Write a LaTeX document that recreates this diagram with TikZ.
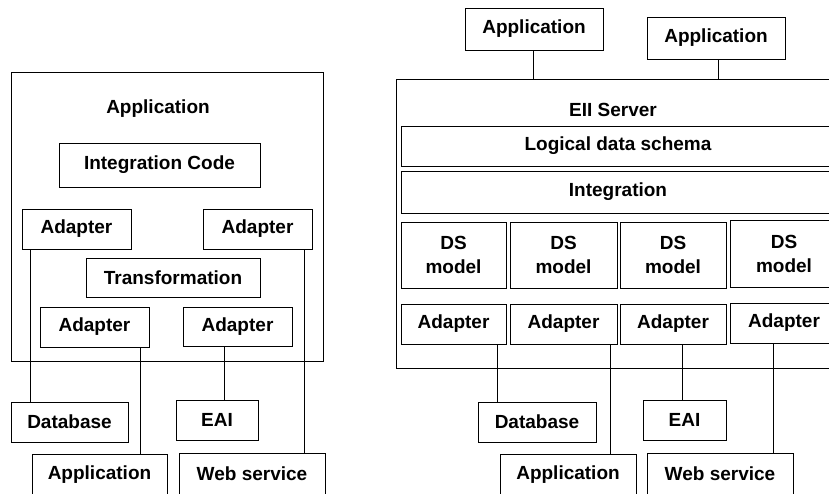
\documentclass[tikz,border=0pt]{standalone}
\usepackage{fontspec}
\setmainfont{Liberation Sans}
\tikzset{
  box/.style={draw, line width=1pt, inner sep=0pt, font=\fontsize{19}{24}\selectfont\bfseries, align=center},
  title/.style={inner sep=0pt, font=\fontsize{19}{24}\selectfont\bfseries},
  link/.style={line width=1pt}
}
\begin{document}
\begin{tikzpicture}[x=1pt, y=-1pt]
    \useasboundingbox (0,0) rectangle (829,493) ;
    \clip (0,0) rectangle (829,493) ;

    % left: integration inside the application
    \node [box, minimum width=312, minimum height=289] (app) at (167,216.5) {} ;
    \node [title] (apptitle) at (158,109) {Application} ;
    \node [box, minimum width=201, minimum height=44] (code) at (159.5,165) {Integration Code} ;
    \node [box, minimum width=109, minimum height=40] (adtl) at (76.5,229) {Adapter} ;
    \node [box, minimum width=109, minimum height=40] (adtr) at (257.5,229) {Adapter} ;
    \node [box, minimum width=174, minimum height=39] (trans) at (173,277.5) {Transformation} ;
    \node [box, minimum width=109, minimum height=40] (adbl) at (94.5,327) {Adapter} ;
    \node [box, minimum width=109, minimum height=39] (adbr) at (237.5,326.5) {Adapter} ;

    \node [box, minimum width=117, minimum height=40] (db) at (69.5,422) {Database} ;
    \node [box, minimum width=82, minimum height=40] (eai) at (217,420) {EAI} ;
    \node [box, minimum width=135, minimum height=42] (appb) at (99.5,475) {Application} ;
    \node [box, minimum width=146, minimum height=42] (ws) at (252,474) {Web service} ;

    \coordinate (l1) at (30,0) ;
    \coordinate (l2) at (304,0) ;
    \coordinate (l3) at (140,0) ;
    \coordinate (l4) at (224,0) ;
    \draw [link] (adtl.south -| l1) -- (db.north -| l1) ;
    \draw [link] (adtr.south -| l2) -- (ws.north -| l2) ;
    \draw [link] (adbl.south -| l3) -- (appb.north -| l3) ;
    \draw [link] (adbr.south -| l4) -- (eai.north -| l4) ;

    % right: EII server
    \node [box, minimum width=138, minimum height=42] (app1) at (534,29) {Application} ;
    \node [box, minimum width=138, minimum height=42] (app2) at (716,38) {Application} ;
    \node [box, minimum width=449, minimum height=289] (eii) at (620.5,223.5) {} ;
    \node [title] (eiititle) at (613,110) {EII Server} ;
    \node [box, minimum width=434, minimum height=40] (schema) at (618,146) {Logical data schema} ;
    \node [box, minimum width=434, minimum height=42] (integ) at (618,192) {Integration} ;

    \node [box, minimum width=105, minimum height=66] (ds1) at (453.5,255) {DS\\model} ;
    \node [box, minimum width=107, minimum height=66] (ds2) at (563.5,255) {DS\\model} ;
    \node [box, minimum width=106, minimum height=66] (ds3) at (673,255) {DS\\model} ;
    \node [box, minimum width=108, minimum height=67] (ds4) at (784,253.5) {DS\\model} ;

    \node [box, minimum width=105, minimum height=40] (ad1) at (453.5,324) {Adapter} ;
    \node [box, minimum width=107, minimum height=40] (ad2) at (563.5,324) {Adapter} ;
    \node [box, minimum width=106, minimum height=40] (ad3) at (673,324) {Adapter} ;
    \node [box, minimum width=108, minimum height=40] (ad4) at (784,323) {Adapter} ;

    \node [box, minimum width=118, minimum height=40] (db2) at (537,422) {Database} ;
    \node [box, minimum width=83, minimum height=40] (eai2) at (684.5,420) {EAI} ;
    \node [box, minimum width=136, minimum height=42] (app3) at (568,475) {Application} ;
    \node [box, minimum width=146, minimum height=42] (ws2) at (720,474) {Web service} ;

    \coordinate (r1) at (533,0) ;
    \coordinate (r2) at (718,0) ;
    \draw [link] (app1.south -| r1) -- (eii.north -| r1) ;
    \draw [link] (app2.south -| r2) -- (eii.north -| r2) ;

    \coordinate (r3) at (497,0) ;
    \coordinate (r4) at (610,0) ;
    \coordinate (r5) at (682,0) ;
    \coordinate (r6) at (773,0) ;
    \draw [link] (ad1.south -| r3) -- (db2.north -| r3) ;
    \draw [link] (ad2.south -| r4) -- (app3.north -| r4) ;
    \draw [link] (ad3.south -| r5) -- (eai2.north -| r5) ;
    \draw [link] (ad4.south -| r6) -- (ws2.north -| r6) ;
\end{tikzpicture}
\end{document}
